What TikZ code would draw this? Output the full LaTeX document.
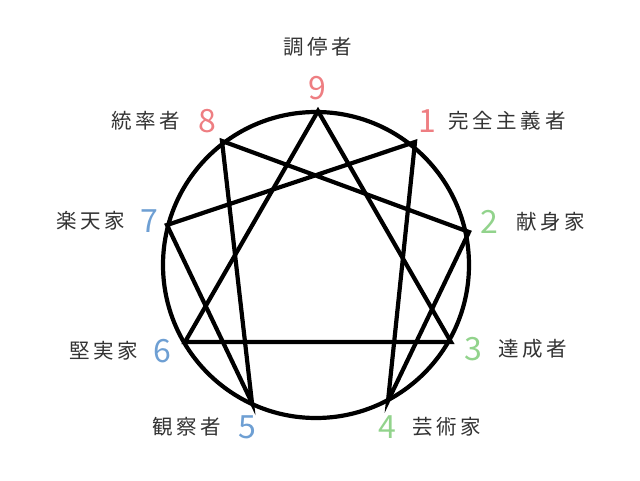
\documentclass[tikz,border=0pt]{standalone}
\usepackage{fontspec}
\newfontfamily\jp[LetterSpace=18]{Noto Sans CJK JP}
\newfontfamily\jpnum{Noto Sans CJK JP}
\definecolor{numred}{HTML}{EE7E82}
\definecolor{numgreen}{HTML}{92D38C}
\definecolor{numblue}{HTML}{6E9FD3}
\definecolor{labgray}{HTML}{333333}
\begin{document}
\begin{tikzpicture}[x=1pt,y=1pt,line width=4.2pt,
		num/.style={font=\jpnum\fontsize{32}{32}\selectfont,inner sep=0},
		lab/.style={font=\jp\fontsize{20.5}{20.5}\selectfont,text=labgray,inner sep=0}]
		\useasboundingbox (0,0) rectangle (640,480);
		\draw (316,215) circle[radius=153];
		\coordinate (P9) at (318,369);
		\coordinate (P1) at (415,338);
		\coordinate (P2) at (469,248);
		\coordinate (P3) at (451,138);
		\coordinate (P4) at (388,79);
		\coordinate (P5) at (252,77);
		\coordinate (P6) at (185,138);
		\coordinate (P7) at (167,255);
		\coordinate (P8) at (222,339);
		\draw[line join=miter] (P9)--(P3)--(P6)--cycle;
		\draw[line join=miter] (P1)--(P4)--(P2)--(P8)--(P5)--(P7)--cycle;
		\node[num,text=numred] (N9) at (317,392) {9};
		\node[num,text=numred] (N8) at (207,359) {8};
		\node[num,text=numred] (N1) at (427,359) {1};
		\node[num,text=numgreen] (N2) at (489,258) {2};
		\node[num,text=numgreen] (N3) at (473,131) {3};
		\node[num,text=numgreen] (N4) at (387,53) {4};
		\node[num,text=numblue] (N5) at (247,53) {5};
		\node[num,text=numblue] (N6) at (162,129) {6};
		\node[num,text=numblue] (N7) at (149,259) {7};
		\node[lab] (L9) at (318,433) {調停者};
		\node[lab] (L8) at (146,359) {統率者};
		\node[lab] (L1) at (507,359) {完全主義者};
		\node[lab] (L2) at (551,258) {献身家};
		\node[lab] (L3) at (533,131) {達成者};
		\node[lab] (L4) at (447,53) {芸術家};
		\node[lab] (L5) at (187,53) {観察者};
		\node[lab] (L6) at (104,129) {堅実家};
		\node[lab] (L7) at (91,259) {楽天家};
	\end{tikzpicture}
\end{document}
